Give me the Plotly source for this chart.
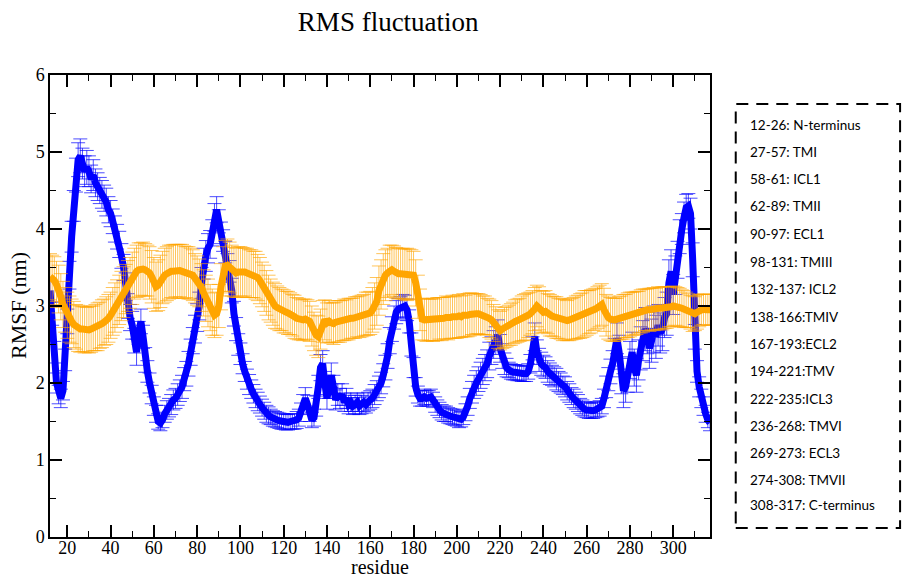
import plotly.graph_objects as go

residues = list(range(12, 318))

rmsf_a = [
    3.20, 2.90, 2.40, 2.00, 1.85, 1.80, 1.90, 2.30, 2.80, 3.40,   # 12-21
    3.90, 4.30, 4.70, 4.90, 4.95, 4.85, 4.75, 4.80, 4.75, 4.65,   # 22-31
    4.70, 4.60, 4.55, 4.50, 4.45, 4.40, 4.35, 4.25, 4.20, 4.10,   # 32-41
    4.00, 3.90, 3.80, 3.65, 3.50, 3.25, 3.00, 2.85, 2.75, 2.55,   # 42-51
    2.40, 2.65, 2.80, 2.60, 2.30, 2.15, 2.00, 1.85, 1.70, 1.60,   # 52-61
    1.50, 1.48, 1.52, 1.60, 1.65, 1.68, 1.72, 1.78, 1.80, 1.85,   # 62-71
    1.90, 1.95, 2.05, 2.12, 2.25, 2.40, 2.55, 2.70, 2.85, 3.00,   # 72-81
    3.30, 3.55, 3.65, 3.75, 3.80, 3.95, 4.15, 4.25, 4.10, 3.95,   # 82-91
    3.85, 3.70, 3.55, 3.45, 3.20, 2.90, 2.70, 2.50, 2.38, 2.25,   # 92-101
    2.15, 2.05, 1.98, 1.92, 1.86, 1.80, 1.76, 1.72, 1.68, 1.64,   # 102-111
    1.60, 1.58, 1.56, 1.54, 1.53, 1.52, 1.51, 1.50, 1.50, 1.49,   # 112-121
    1.49, 1.50, 1.50, 1.50, 1.52, 1.55, 1.62, 1.72, 1.80, 1.72,   # 122-131
    1.60, 1.52, 1.55, 1.70, 1.95, 2.20, 2.25, 2.00, 1.80, 1.95,   # 132-141
    2.10, 1.95, 1.78, 1.85, 1.80, 1.85, 1.75, 1.80, 1.72, 1.75,   # 142-151
    1.70, 1.72, 1.75, 1.70, 1.72, 1.75, 1.72, 1.76, 1.78, 1.80,   # 152-161
    1.85, 1.90, 1.95, 2.00, 2.10, 2.20, 2.35, 2.55, 2.70, 2.85,   # 162-171
    2.92, 2.96, 2.98, 3.00, 3.00, 2.95, 2.80, 2.50, 2.20, 1.95,   # 172-181
    1.85, 1.80, 1.80, 1.82, 1.80, 1.80, 1.82, 1.78, 1.72, 1.68,   # 182-191
    1.65, 1.62, 1.60, 1.60, 1.58, 1.57, 1.56, 1.55, 1.54, 1.52,   # 192-201
    1.53, 1.56, 1.62, 1.70, 1.80, 1.88, 1.95, 2.00, 2.05, 2.10,   # 202-211
    2.15, 2.20, 2.25, 2.35, 2.42, 2.50, 2.55, 2.62, 2.45, 2.35,   # 212-221
    2.25, 2.20, 2.17, 2.15, 2.14, 2.14, 2.13, 2.13, 2.12, 2.12,   # 222-231
    2.12, 2.15, 2.25, 2.45, 2.60, 2.40, 2.30, 2.25, 2.22, 2.20,   # 232-241
    2.15, 2.12, 2.10, 2.08, 2.05, 2.02, 2.00, 1.97, 1.95, 1.90,   # 242-251
    1.87, 1.83, 1.80, 1.77, 1.74, 1.70, 1.68, 1.66, 1.65, 1.64,   # 252-261
    1.64, 1.64, 1.65, 1.66, 1.67, 1.70, 1.80, 1.95, 2.05, 2.15,   # 262-271
    2.25, 2.40, 2.58, 2.40, 2.10, 1.90, 1.95, 2.10, 2.30, 2.40,   # 272-281
    2.20, 2.10, 2.30, 2.45, 2.55, 2.70, 2.65, 2.45, 2.55, 2.70,   # 282-291
    2.60, 2.75, 2.65, 2.70, 2.85, 2.90, 3.30, 3.45, 3.15, 3.40,   # 292-301
    3.60, 3.90, 4.00, 4.15, 4.28, 4.30, 4.20, 3.60, 2.60, 2.15,   # 302-311
    1.95, 1.80, 1.70, 1.60, 1.52, 1.48,                           # 312-317
]

err_a = [
    0.15, 0.15, 0.14, 0.13, 0.12, 0.12, 0.12, 0.14, 0.16, 0.18,
    0.20, 0.20, 0.22, 0.22, 0.22, 0.20, 0.20, 0.22, 0.20, 0.18,
    0.20, 0.18, 0.18, 0.17, 0.18, 0.17, 0.18, 0.17, 0.17, 0.16,
    0.17, 0.16, 0.17, 0.16, 0.17, 0.18, 0.16, 0.17, 0.18, 0.16,
    0.17, 0.15, 0.16, 0.15, 0.16, 0.14, 0.13, 0.12, 0.12, 0.11,
    0.10, 0.10, 0.10, 0.11, 0.12, 0.12, 0.13, 0.13, 0.13, 0.14,
    0.14, 0.15, 0.15, 0.16, 0.16, 0.17, 0.17, 0.18, 0.18, 0.18,
    0.20, 0.20, 0.20, 0.19, 0.18, 0.17, 0.18, 0.17, 0.15, 0.14,
    0.14, 0.14, 0.13, 0.14, 0.16, 0.16, 0.15, 0.14, 0.14, 0.13,
    0.13, 0.13, 0.13, 0.12, 0.12, 0.12, 0.12, 0.11, 0.11, 0.11,
    0.11, 0.11, 0.10, 0.10, 0.10, 0.10, 0.10, 0.10, 0.10, 0.10,
    0.10, 0.10, 0.10, 0.10, 0.11, 0.11, 0.12, 0.13, 0.14, 0.12,
    0.10, 0.10, 0.11, 0.13, 0.15, 0.17, 0.17, 0.15, 0.14, 0.15,
    0.16, 0.15, 0.13, 0.14, 0.13, 0.14, 0.12, 0.13, 0.12, 0.12,
    0.11, 0.12, 0.12, 0.11, 0.12, 0.12, 0.11, 0.12, 0.12, 0.12,
    0.13, 0.13, 0.14, 0.14, 0.15, 0.16, 0.16, 0.17, 0.16, 0.15,
    0.15, 0.14, 0.14, 0.15, 0.14, 0.14, 0.15, 0.15, 0.13, 0.12,
    0.11, 0.10, 0.10, 0.10, 0.10, 0.10, 0.10, 0.10, 0.10, 0.10,
    0.10, 0.10, 0.10, 0.10, 0.10, 0.10, 0.10, 0.10, 0.10, 0.10,
    0.10, 0.10, 0.11, 0.12, 0.13, 0.14, 0.15, 0.16, 0.16, 0.17,
    0.17, 0.17, 0.18, 0.18, 0.18, 0.18, 0.18, 0.20, 0.18, 0.16,
    0.14, 0.12, 0.10, 0.10, 0.10, 0.10, 0.10, 0.10, 0.10, 0.10,
    0.10, 0.10, 0.12, 0.15, 0.18, 0.16, 0.15, 0.15, 0.14, 0.14,
    0.14, 0.14, 0.13, 0.13, 0.14, 0.13, 0.13, 0.12, 0.13, 0.12,
    0.12, 0.11, 0.12, 0.11, 0.11, 0.10, 0.10, 0.10, 0.10, 0.10,
    0.10, 0.10, 0.10, 0.10, 0.10, 0.10, 0.12, 0.14, 0.15, 0.16,
    0.17, 0.18, 0.20, 0.22, 0.24, 0.22, 0.20, 0.22, 0.24, 0.26,
    0.24, 0.22, 0.26, 0.28, 0.26, 0.28, 0.27, 0.26, 0.28, 0.30,
    0.28, 0.27, 0.26, 0.28, 0.26, 0.28, 0.30, 0.28, 0.26, 0.25,
    0.24, 0.22, 0.20, 0.20, 0.17, 0.16, 0.20, 0.22, 0.16, 0.14,
    0.13, 0.12, 0.12, 0.11, 0.10, 0.10,
]

rmsf_b = [
    3.38, 3.36, 3.33, 3.28, 3.22, 3.12, 3.02, 2.95, 2.88, 2.83,   # 12-21
    2.80, 2.76, 2.73, 2.71, 2.70, 2.70, 2.69, 2.69, 2.69, 2.70,   # 22-31
    2.71, 2.72, 2.73, 2.75, 2.77, 2.79, 2.81, 2.84, 2.88, 2.93,   # 32-41
    2.98, 3.03, 3.08, 3.13, 3.18, 3.22, 3.26, 3.30, 3.36, 3.42,   # 42-51
    3.45, 3.47, 3.48, 3.48, 3.47, 3.46, 3.43, 3.38, 3.30, 3.25,   # 52-61
    3.27, 3.32, 3.37, 3.40, 3.42, 3.44, 3.45, 3.45, 3.46, 3.45,   # 62-71
    3.46, 3.45, 3.44, 3.44, 3.43, 3.42, 3.40, 3.36, 3.33, 3.30,   # 72-81
    3.24, 3.17, 3.10, 3.04, 2.98, 2.92, 2.88, 2.90, 3.00, 3.25,   # 82-91
    3.45, 3.52, 3.53, 3.50, 3.46, 3.44, 3.43, 3.44, 3.45, 3.44,   # 92-101
    3.44, 3.43, 3.42, 3.42, 3.41, 3.40, 3.37, 3.33, 3.28, 3.23,   # 102-111
    3.17, 3.11, 3.07, 3.03, 3.00, 2.98, 2.96, 2.95, 2.93, 2.92,   # 112-121
    2.91, 2.90, 2.88, 2.86, 2.84, 2.83, 2.82, 2.82, 2.83, 2.82,   # 122-131
    2.80, 2.74, 2.67, 2.62, 2.60, 2.70, 2.80, 2.82, 2.78, 2.80,   # 132-141
    2.78, 2.77, 2.79, 2.80, 2.80, 2.81, 2.82, 2.82, 2.83, 2.84,   # 142-151
    2.84, 2.85, 2.86, 2.86, 2.87, 2.88, 2.90, 2.90, 2.91, 2.95,   # 152-161
    3.00, 3.06, 3.20, 3.28, 3.35, 3.40, 3.43, 3.46, 3.47, 3.45,   # 162-171
    3.43, 3.42, 3.42, 3.42, 3.41, 3.41, 3.41, 3.41, 3.40, 3.30,   # 172-181
    3.12, 2.95, 2.83, 2.82, 2.82, 2.82, 2.82, 2.82, 2.82, 2.83,   # 182-191
    2.84, 2.83, 2.84, 2.85, 2.84, 2.85, 2.86, 2.85, 2.86, 2.87,   # 192-201
    2.86, 2.88, 2.87, 2.88, 2.89, 2.90, 2.89, 2.90, 2.90, 2.89,   # 202-211
    2.88, 2.88, 2.86, 2.84, 2.82, 2.78, 2.74, 2.70, 2.68, 2.70,   # 212-221
    2.72, 2.73, 2.75, 2.76, 2.78, 2.80, 2.81, 2.82, 2.84, 2.85,   # 222-231
    2.86, 2.88, 2.90, 2.92, 2.96, 3.00, 2.97, 2.93, 2.92, 2.93,   # 232-241
    2.90, 2.88, 2.87, 2.86, 2.85, 2.84, 2.83, 2.82, 2.82, 2.81,   # 242-251
    2.82, 2.83, 2.84, 2.85, 2.86, 2.87, 2.88, 2.90, 2.91, 2.92,   # 252-261
    2.93, 2.95, 2.96, 2.98, 3.00, 3.02, 2.95, 2.88, 2.85, 2.83,   # 262-271
    2.82, 2.82, 2.83, 2.84, 2.85, 2.86, 2.87, 2.88, 2.89, 2.90,   # 272-281
    2.90, 2.91, 2.92, 2.93, 2.94, 2.95, 2.95, 2.95, 2.96, 2.96,   # 282-291
    2.96, 2.97, 2.97, 2.97, 2.98, 2.98, 2.99, 2.99, 3.00, 3.00,   # 292-301
    2.99, 2.98, 2.97, 2.96, 2.95, 2.94, 2.92, 2.90, 2.90, 2.92,   # 302-311
    2.94, 2.95, 2.96, 2.95, 2.95, 2.95,                           # 312-317
]

err_b = [
    0.30, 0.30, 0.31, 0.30, 0.31, 0.30, 0.30, 0.29, 0.30, 0.30,
    0.29, 0.30, 0.29, 0.30, 0.30, 0.29, 0.30, 0.29, 0.30, 0.30,
    0.29, 0.30, 0.31, 0.30, 0.31, 0.30, 0.31, 0.31, 0.30, 0.31,
    0.32, 0.31, 0.32, 0.32, 0.33, 0.32, 0.33, 0.33, 0.34, 0.33,
    0.34, 0.35, 0.34, 0.35, 0.34, 0.33, 0.34, 0.34, 0.33, 0.32,
    0.33, 0.34, 0.34, 0.35, 0.35, 0.35, 0.34, 0.35, 0.34, 0.35,
    0.34, 0.35, 0.34, 0.33, 0.34, 0.33, 0.33, 0.32, 0.32, 0.31,
    0.31, 0.30, 0.30, 0.31, 0.30, 0.30, 0.29, 0.28, 0.28, 0.30,
    0.32, 0.33, 0.34, 0.33, 0.33, 0.32, 0.32, 0.33, 0.32, 0.32,
    0.31, 0.32, 0.31, 0.31, 0.30, 0.31, 0.30, 0.30, 0.29, 0.30,
    0.29, 0.29, 0.28, 0.28, 0.29, 0.28, 0.28, 0.27, 0.28, 0.27,
    0.28, 0.27, 0.27, 0.28, 0.27, 0.27, 0.26, 0.27, 0.26, 0.26,
    0.26, 0.26, 0.25, 0.26, 0.27, 0.26, 0.27, 0.26, 0.26, 0.27,
    0.26, 0.27, 0.26, 0.27, 0.27, 0.26, 0.27, 0.26, 0.27, 0.26,
    0.26, 0.27, 0.26, 0.27, 0.27, 0.27, 0.28, 0.28, 0.28, 0.29,
    0.30, 0.31, 0.32, 0.32, 0.33, 0.33, 0.32, 0.33, 0.32, 0.33,
    0.33, 0.33, 0.32, 0.33, 0.33, 0.34, 0.33, 0.32, 0.31, 0.30,
    0.28, 0.27, 0.27, 0.27, 0.28, 0.27, 0.27, 0.28, 0.27, 0.28,
    0.27, 0.28, 0.27, 0.28, 0.28, 0.27, 0.28, 0.27, 0.28, 0.28,
    0.27, 0.28, 0.27, 0.28, 0.28, 0.27, 0.27, 0.26, 0.26, 0.26,
    0.25, 0.25, 0.24, 0.25, 0.25, 0.24, 0.25, 0.25, 0.25, 0.25,
    0.26, 0.26, 0.26, 0.27, 0.27, 0.28, 0.28, 0.28, 0.29, 0.30,
    0.30, 0.29, 0.28, 0.28, 0.28, 0.27, 0.28, 0.27, 0.27, 0.27,
    0.26, 0.27, 0.26, 0.26, 0.27, 0.26, 0.26, 0.27, 0.26, 0.26,
    0.27, 0.27, 0.27, 0.28, 0.28, 0.29, 0.29, 0.30, 0.29, 0.28,
    0.28, 0.27, 0.27, 0.27, 0.27, 0.27, 0.28, 0.27, 0.28, 0.28,
    0.28, 0.28, 0.27, 0.28, 0.28, 0.29, 0.28, 0.29, 0.29, 0.28,
    0.28, 0.28, 0.27, 0.28, 0.28, 0.27, 0.27, 0.28, 0.27, 0.28,
    0.27, 0.28, 0.27, 0.28, 0.27, 0.27, 0.26, 0.26, 0.26, 0.25,
    0.25, 0.25, 0.24, 0.24, 0.23, 0.22, 0.22, 0.23, 0.22, 0.22,
    0.21, 0.20, 0.20, 0.20, 0.20, 0.20,
]

region_labels = [
    "12-26: N-terminus", "27-57: TMI", "58-61: ICL1", "62-89: TMII",
    "90-97: ECL1", "98-131: TMIII", "132-137: ICL2", "138-166:TMIV",
    "167-193:ECL2", "194-221:TMV", "222-235:ICL3", "236-268: TMVI",
    "269-273: ECL3", "274-308: TMVII", "308-317: C-terminus",
]

fig = go.Figure()
fig.add_trace(go.Scatter(
    x=residues, y=rmsf_a, mode="lines",
    line=dict(color="#0000ff", width=7),
    error_y=dict(type="data", array=err_a, color="rgba(0,0,255,0.7)",
                 thickness=1, width=7),
    showlegend=False,
))
fig.add_trace(go.Scatter(
    x=residues, y=rmsf_b, mode="lines",
    line=dict(color="#ffa500", width=7),
    error_y=dict(type="data", array=err_b, color="rgba(255,165,0,0.65)",
                 thickness=1, width=7),
    showlegend=False,
))

serif = "Liberation Serif, Times New Roman, serif"
axis_common = dict(
    showline=True, linecolor="black", linewidth=1.5, mirror="allticks",
    ticks="inside", ticklen=12, tickwidth=1.5, tickcolor="black",
    showgrid=False, zeroline=False, automargin=False,
    tickfont=dict(family=serif, size=18, color="black"),
)
fig.update_xaxes(
    range=[12, 317], tick0=20, dtick=20, ticklabelstandoff=-6,
    minor=dict(ticks="inside", ticklen=6, tickwidth=1.2, tickcolor="black", dtick=10, tick0=0),
    **axis_common,
)
fig.update_yaxes(
    range=[0, 6], tick0=0, dtick=1,
    minor=dict(ticks="inside", ticklen=6, tickwidth=1.2, tickcolor="black", dtick=0.5, tick0=0),
    **axis_common,
)

# axis titles
fig.add_annotation(xref="paper", yref="paper", x=0.5, y=(537 - 567) / 462,
                   text="residue", showarrow=False, xanchor="center", yanchor="middle",
                   font=dict(family=serif, size=20, color="black"))
fig.add_annotation(xref="paper", yref="paper", x=(18 - 50) / 660, y=0.5,
                   text="RMSF (nm)", showarrow=False, textangle=-90,
                   xanchor="center", yanchor="middle",
                   font=dict(family=serif, size=22, color="black"))

# dashed region box
fig.add_shape(type="rect", xref="paper", yref="paper",
              x0=1.039, x1=1.288, y0=0.0195, y1=0.937,
              line=dict(color="black", width=2, dash="12px,8px"))

label_y_px = [125, 152, 179, 206, 234, 262, 289, 317, 344, 371, 399, 426, 453, 480, 505]
for txt, ypx in zip(region_labels, label_y_px):
    fig.add_annotation(
        xref="paper", yref="paper", x=1.0576, y=(537 - ypx) / 462,
        text=txt, showarrow=False, xanchor="left", yanchor="middle",
        font=dict(family="Lato, Noto Sans, sans-serif", size=13.5, color="black"),
    )

fig.update_layout(
    width=905, height=577,
    margin=dict(l=50, r=195, t=75, b=40),
    paper_bgcolor="white", plot_bgcolor="white",
    title=dict(text="RMS fluctuation", x=0.429, xanchor="center",
               y=1 - 22 / 577, yanchor="middle",
               font=dict(family=serif, size=27, color="black")),
)

fig.write_html("out.html")
